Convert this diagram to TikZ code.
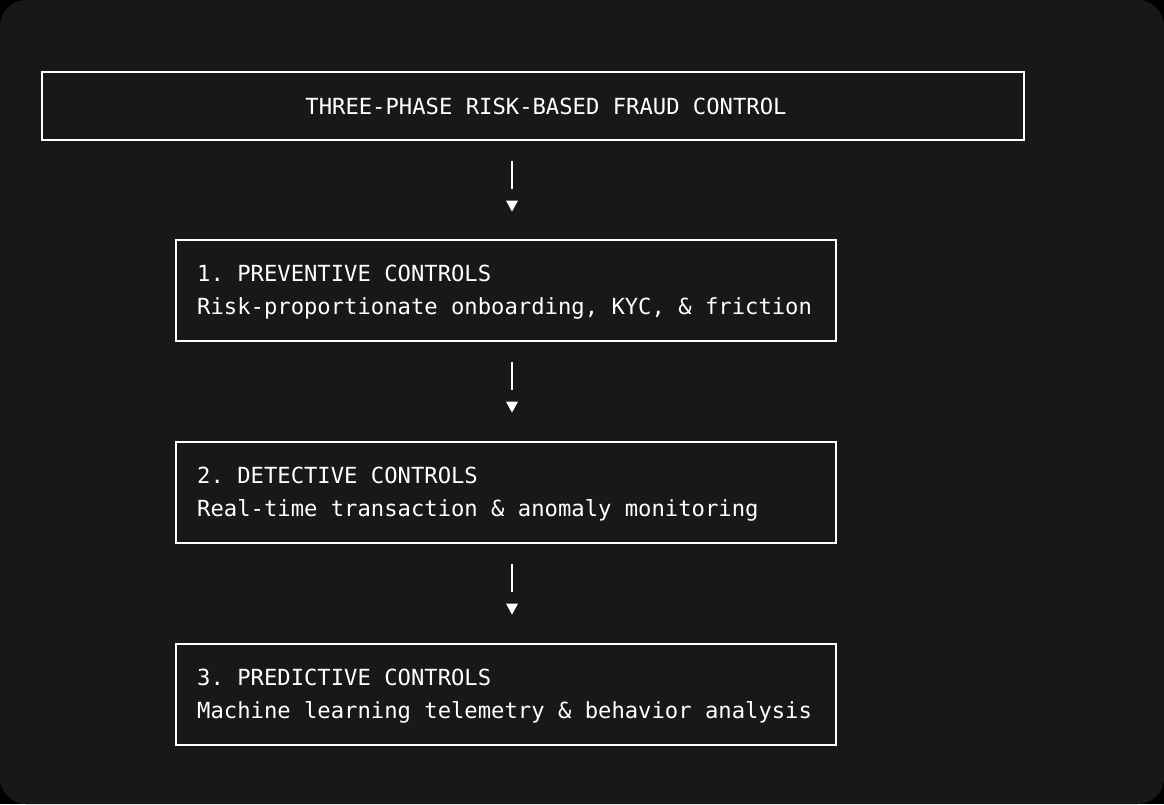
\documentclass[tikz,border=0pt]{standalone}
\usepackage{fontspec}
\setmonofont{DejaVu Sans Mono}
\usetikzlibrary{positioning,arrows.meta}
\definecolor{bg}{HTML}{181818}
\tikzset{
  box/.style={draw=white,line width=1.2pt,inner sep=0pt},
  txt/.style={text=white,font=\ttfamily\fontsize{22.2}{33}\selectfont,anchor=base west,inner sep=0pt},
  link/.style={draw=white,line width=1.2pt},
  tip/.style={fill=white}
}
\begin{document}
\begin{tikzpicture}[x=1pt,y=-1pt]
\fill[black] (0,0) rectangle (1164,804);
\fill[bg,rounded corners=26pt] (0,0) rectangle (1164,804);

\node[box,minimum width=982pt,minimum height=68pt] (title) at (533,106) {};
\node[text=white,font=\ttfamily\fontsize{22.2}{24}\selectfont] (tt) at (546,106) {THREE-PHASE RISK-BASED FRAUD CONTROL};

\node[box,minimum width=660pt,minimum height=101pt] (prev) at (506,290.5) {};
\node[box,minimum width=660pt,minimum height=101pt] (det)  at (506,492.5) {};
\node[box,minimum width=660pt,minimum height=101pt] (pred) at (506,694.5) {};

\node[txt] (prevA) at (197,281) {1. PREVENTIVE CONTROLS};
\node[txt] (prevB) at (197,314) {Risk-proportionate onboarding, KYC, \& friction};
\node[txt] (detA)  at (197,483) {2. DETECTIVE CONTROLS};
\node[txt] (detB)  at (197,516) {Real-time transaction \& anomaly monitoring};
\node[txt] (predA) at (197,685) {3. PREDICTIVE CONTROLS};
\node[txt] (predB) at (197,718) {Machine learning telemetry \& behavior analysis};

% arrows between phases
\foreach \a/\b in {title/prev,prev/det,det/pred}{
  \coordinate (\a-s) at ([yshift=-20pt]\a.south -| 512,0);
  \coordinate (\a-e) at ([yshift=-48pt]\a.south -| 512,0);
  \draw[link] (\a-s) -- (\a-e);
  \fill[tip] ([yshift=-60pt]\a.south -| 506,0) -- ++(12,0) -- ++(-6,11) -- cycle;
}
\end{tikzpicture}
\end{document}
